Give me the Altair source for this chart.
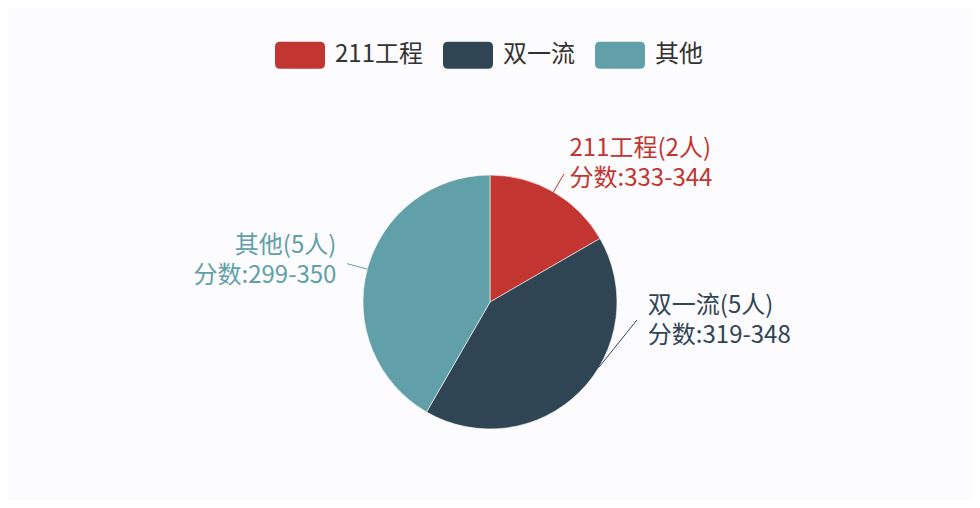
import math
import altair as alt
import pandas as pd

# values
groups = ["211工程", "双一流", "其他"]
counts = [2, 5, 5]
score_ranges = ["333-344", "319-348", "299-350"]

# style
colors = ["#c23531", "#2f4554", "#61a0a8"]
label_shift = [0, -38, 0]   # degrees, label moved round the pie
line_shift = [0, -14, 0]    # degrees, where the leader line leaves the pie
sides = ["left", "left", "right"]
CX, CY, R = 482, 294, 127
FONT = "Noto Sans CJK SC"

total = sum(counts)
rows = []
start = 0
for i, (g, c, s) in enumerate(zip(groups, counts, score_ranges)):
    mid = (start + c / 2) / total * 360
    start += c
    la = math.radians(mid + label_shift[i])
    sa = math.radians(mid + line_shift[i])
    rows.append({
        "name": g,
        "count": c,
        "idx": i,
        "side": sides[i],
        "label": f"{g}({c}人)\n分数:{s}",
        "lx": CX + 159 * math.sin(la),
        "ly": CY - 159 * math.cos(la),
        "x1": CX + R * math.sin(sa),
        "y1": CY - R * math.cos(sa),
        "x2": CX + 148 * math.sin(la),
        "y2": CY - 148 * math.cos(la),
    })
df = pd.DataFrame(rows)

# rounded rectangle for the legend swatch (50 x 27 px at size 2500)
swatch = ("M-0.8,-0.54 L0.8,-0.54 Q1,-0.54 1,-0.34 L1,0.34 Q1,0.54 0.8,0.54 "
          "L-0.8,0.54 Q-1,0.54 -1,0.34 L-1,-0.34 Q-1,-0.54 -0.8,-0.54 Z")

color = alt.Color(
    "name:N",
    scale=alt.Scale(domain=groups, range=colors),
    legend=alt.Legend(
        title=None, orient="none", direction="horizontal",
        legendX=267, legendY=22,
        symbolType=swatch, symbolSize=2500, symbolStrokeWidth=0, symbolOpacity=1,
        labelFont=FONT, labelFontSize=24, labelColor="#333333",
        labelOffset=10, columnPadding=20, padding=0,
    ),
)

base = alt.Chart(df)

pie = base.mark_arc(outerRadius=R, stroke="#fcfbfd", strokeWidth=0.6).encode(
    theta=alt.Theta("count:Q", stack=True),
    color=color,
    order=alt.Order("idx:Q"),
    x=alt.value(CX),
    y=alt.value(CY),
)

lines = base.mark_rule(strokeWidth=1).encode(
    x=alt.X("x1:Q", scale=None),
    y=alt.Y("y1:Q", scale=None),
    x2="x2:Q",
    y2="y2:Q",
    color=color,
)

def labels(side):
    return base.transform_filter(alt.datum.side == side).mark_text(
        align=side, baseline="middle", font=FONT, fontSize=24,
        lineBreak="\n", lineHeight=30, dy=-15,
    ).encode(
        x=alt.X("lx:Q", scale=None),
        y=alt.Y("ly:Q", scale=None),
        text="label:N",
        color=color,
    )

chart = alt.layer(pie, lines, labels("left"), labels("right")).properties(
    width=964, height=492,
    autosize=alt.AutoSizeParams(type="fit", contains="padding"),
    padding=0,
).configure(background="#fcfbfd").configure_view(strokeWidth=0)

chart.save("out.html", embed_options={"renderer": "svg", "actions": False})
